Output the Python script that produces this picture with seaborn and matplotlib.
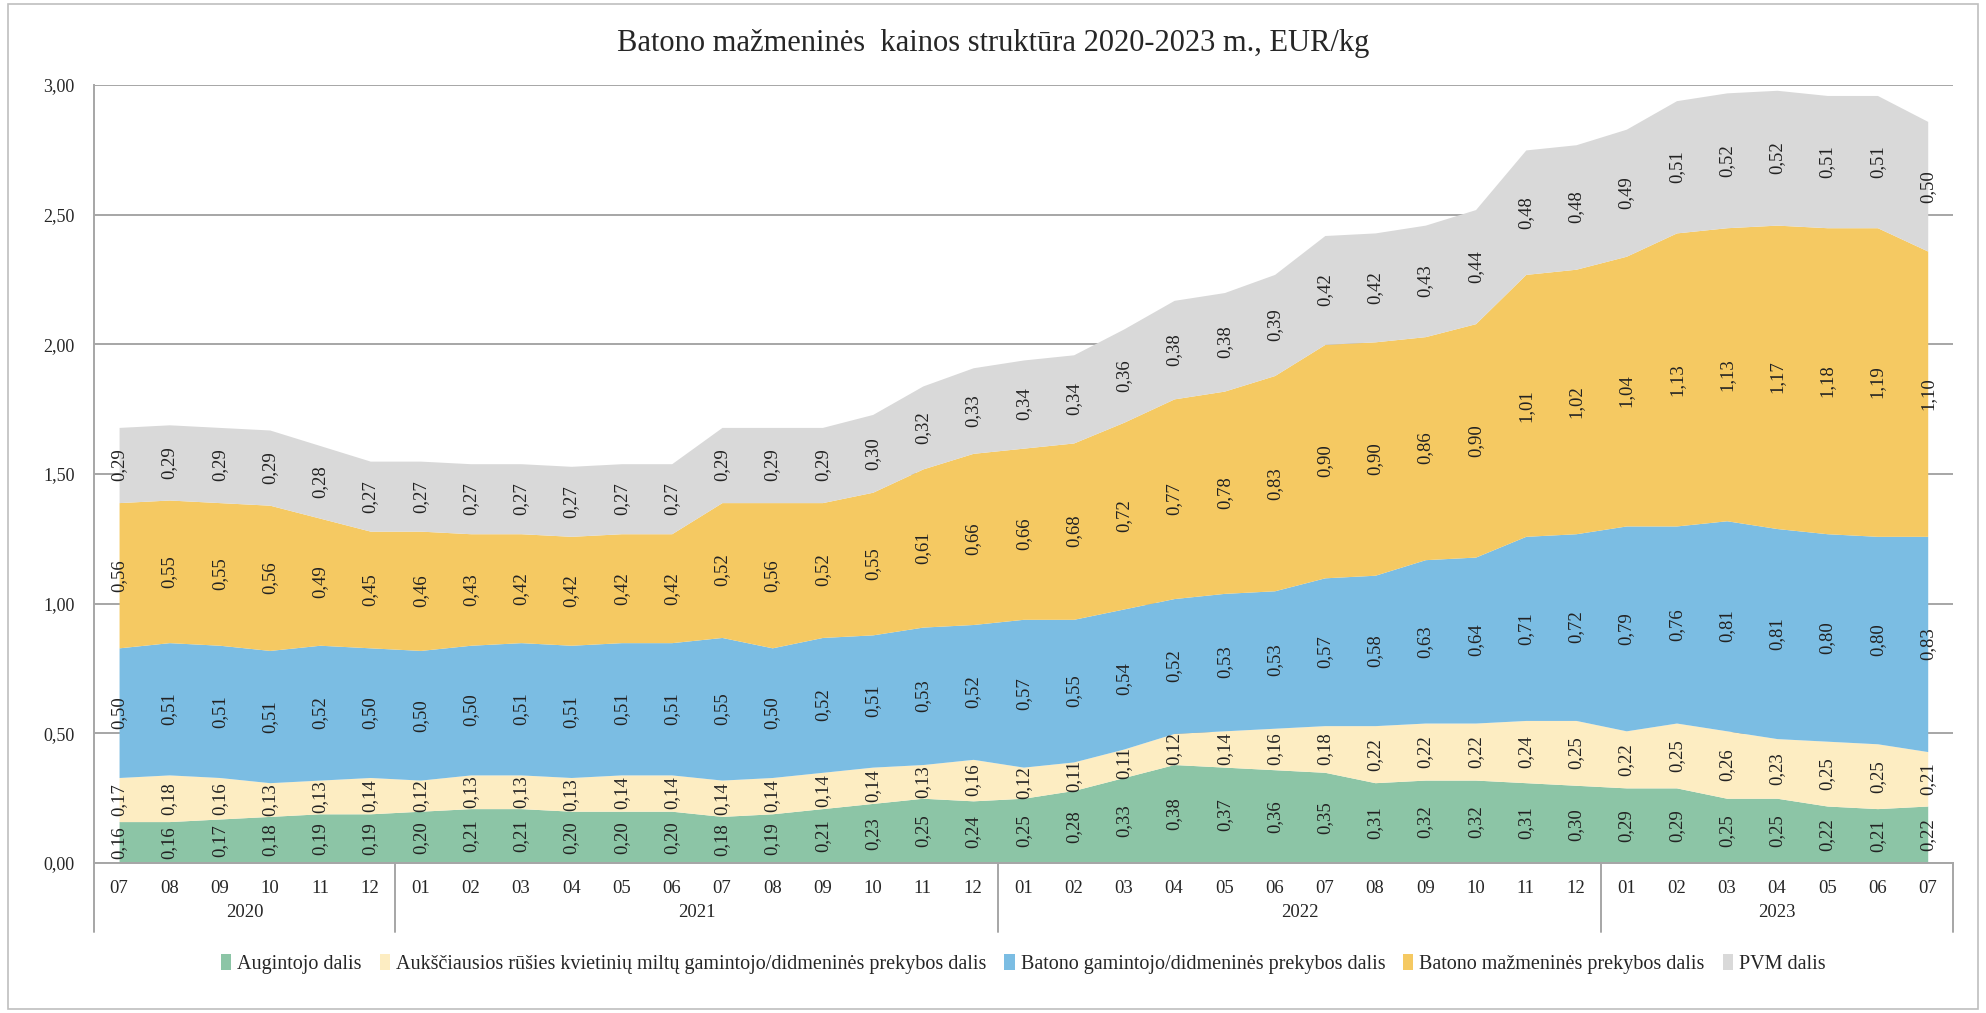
import numpy as np
import pandas as pd
import matplotlib
matplotlib.use("Agg")
import matplotlib.pyplot as plt
import matplotlib.transforms as mtransforms
from matplotlib.patches import Rectangle
import seaborn as sns

# data: months 2020-07 .. 2023-07, EUR/kg
months = ["07", "08", "09", "10", "11", "12",
          "01", "02", "03", "04", "05", "06", "07", "08", "09", "10", "11", "12",
          "01", "02", "03", "04", "05", "06", "07", "08", "09", "10", "11", "12",
          "01", "02", "03", "04", "05", "06", "07"]
years = ["2020", "2021", "2022", "2023"]
year_len = [6, 12, 12, 7]

augintojo = [0.16, 0.16, 0.17, 0.18, 0.19, 0.19,
             0.20, 0.21, 0.21, 0.20, 0.20, 0.20, 0.18, 0.19, 0.21, 0.23, 0.25, 0.24,
             0.25, 0.28, 0.33, 0.38, 0.37, 0.36, 0.35, 0.31, 0.32, 0.32, 0.31, 0.30,
             0.29, 0.29, 0.25, 0.25, 0.22, 0.21, 0.22]
miltu = [0.17, 0.18, 0.16, 0.13, 0.13, 0.14,
         0.12, 0.13, 0.13, 0.13, 0.14, 0.14, 0.14, 0.14, 0.14, 0.14, 0.13, 0.16,
         0.12, 0.11, 0.11, 0.12, 0.14, 0.16, 0.18, 0.22, 0.22, 0.22, 0.24, 0.25,
         0.22, 0.25, 0.26, 0.23, 0.25, 0.25, 0.21]
gamintojo = [0.50, 0.51, 0.51, 0.51, 0.52, 0.50,
             0.50, 0.50, 0.51, 0.51, 0.51, 0.51, 0.55, 0.50, 0.52, 0.51, 0.53, 0.52,
             0.57, 0.55, 0.54, 0.52, 0.53, 0.53, 0.57, 0.58, 0.63, 0.64, 0.71, 0.72,
             0.79, 0.76, 0.81, 0.81, 0.80, 0.80, 0.83]
mazmenines = [0.56, 0.55, 0.55, 0.56, 0.49, 0.45,
              0.46, 0.43, 0.42, 0.42, 0.42, 0.42, 0.52, 0.56, 0.52, 0.55, 0.61, 0.66,
              0.66, 0.68, 0.72, 0.77, 0.78, 0.83, 0.90, 0.90, 0.86, 0.90, 1.01, 1.02,
              1.04, 1.13, 1.13, 1.17, 1.18, 1.19, 1.10]
pvm = [0.29, 0.29, 0.29, 0.29, 0.28, 0.27,
       0.27, 0.27, 0.27, 0.27, 0.27, 0.27, 0.29, 0.29, 0.29, 0.30, 0.32, 0.33,
       0.34, 0.34, 0.36, 0.38, 0.38, 0.39, 0.42, 0.42, 0.43, 0.44, 0.48, 0.48,
       0.49, 0.51, 0.52, 0.52, 0.51, 0.51, 0.50]

series_names = ["Augintojo dalis",
                "Aukščiausios rūšies kvietinių miltų gamintojo/didmeninės prekybos dalis",
                "Batono gamintojo/didmeninės prekybos dalis",
                "Batono mažmeninės prekybos dalis",
                "PVM dalis"]
colors = ["#8cc5a6", "#fdedc2", "#7bbde3", "#f5c962", "#d9d9d9"]

df = pd.DataFrame(dict(zip(series_names, [augintojo, miltu, gamintojo, mazmenines, pvm])))

sns.set_theme(style="white")
plt.rcParams["font.family"] = ["Liberation Serif", "DejaVu Serif"]

fig = plt.figure(figsize=(19.86, 10.13), dpi=100)
ax = fig.add_axes([0.0473, 0.148, 0.936, 0.768])

x = np.arange(len(months))
ax.stackplot(x, *[df[c].values for c in series_names], colors=colors,
             labels=series_names, linewidth=0, zorder=2)

# value labels in the middle of every band
bottom = np.zeros(len(months))
for c in series_names:
    vals = df[c].values
    for i, v in enumerate(vals):
        ax.text(i, bottom[i] + v / 2, f"{v:.2f}".replace(".", ","), rotation=90,
                ha="center", va="center", fontsize=13.5, color="#222222", zorder=4)
    bottom += vals

ax.set_xlim(-0.5, len(months) - 0.5)
ax.set_ylim(0, 3.0)
ax.set_yticks(np.arange(0, 3.01, 0.5))
ax.set_yticklabels([f"{t:.2f}".replace(".", ",") for t in np.arange(0, 3.01, 0.5)],
                   fontsize=13)
ax.yaxis.grid(True, color="#a6a6a6", linewidth=1.4, zorder=1)
ax.set_axisbelow(True)
ax.set_xticks(x)
ax.set_xticklabels(months, fontsize=13.5)
ax.tick_params(axis="x", length=0, pad=12)
ax.tick_params(axis="y", length=0, pad=14)
for s in ["top", "right"]:
    ax.spines[s].set_visible(False)
for s in ["left", "bottom"]:
    ax.spines[s].set_color("#a6a6a6")
    ax.spines[s].set_linewidth(1.4)

# year row and separators below the axis
trans = mtransforms.blended_transform_factory(ax.transData, ax.transAxes)
start = -0.5
ax.plot([start, start], [0, -0.088], transform=trans, color="#a6a6a6", lw=1.4, clip_on=False)
for yr, n in zip(years, year_len):
    end = start + n
    ax.plot([end, end], [0, -0.088], transform=trans, color="#a6a6a6", lw=1.4, clip_on=False)
    ax.text((start + end) / 2, -0.063, yr, transform=trans, ha="center", va="center", fontsize=13.5)
    start = end

ax.legend(loc="upper center", bbox_to_anchor=(0.5, -0.093), ncol=5, frameon=False,
          fontsize=14.5, handlelength=0.5, handleheight=0.9, handletextpad=0.3,
          columnspacing=0.9)

fig.text(0.5, 0.957, "Batono mažmeninės  kainos struktūra 2020-2023 m., EUR/kg",
         ha="center", va="center", fontsize=22)
fig.patches.append(Rectangle((0.004, 0.004), 0.992, 0.992, transform=fig.transFigure,
                             fill=False, edgecolor="#bfbfbf", linewidth=1.2))

fig.savefig("out.png", dpi=100)
